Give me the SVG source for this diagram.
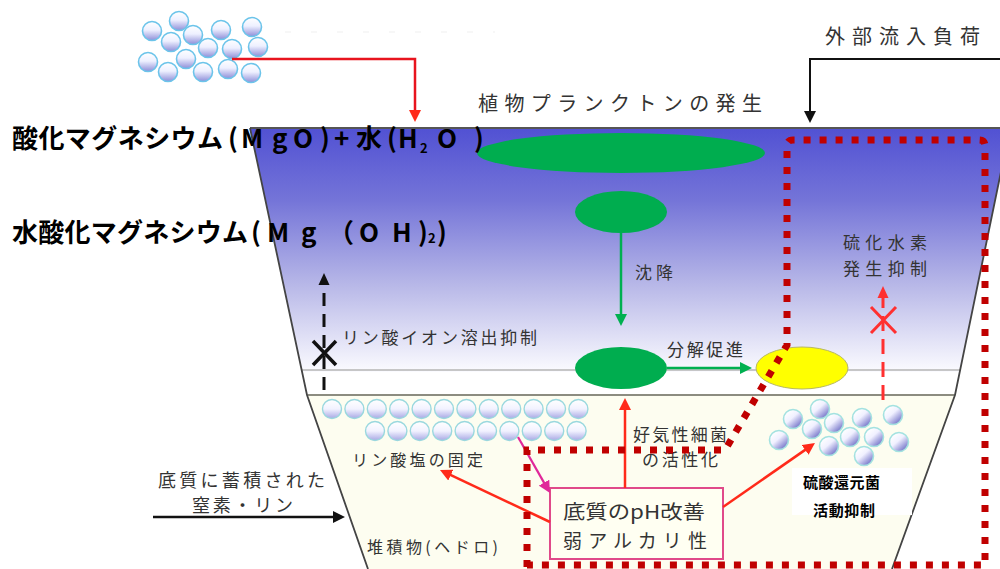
<svg xmlns="http://www.w3.org/2000/svg" width="1000" height="569" viewBox="0 0 1000 569">
  <style>
    .lbl { font-family: "Noto Sans CJK JP", "Noto Sans", sans-serif; fill: #333; }
    .big { font-family: "Noto Sans CJK JP", "Noto Sans", sans-serif; font-weight: bold; fill: #000; font-size: 26px; }
    .sub { font-size: 13px; }
    .bubA { fill: url(#gA); stroke: #6cc4ea; stroke-width: 1.6; }
    .bubB { fill: url(#gB); stroke: #9ad8de; stroke-width: 1.4; }
    .bubC { fill: url(#gC); stroke: #a4e2e0; stroke-width: 1.6; }
    .wall { fill: none; stroke: #444; stroke-width: 1.8; }
    .green { fill: #00ad4f; }
    .arRed { fill: none; stroke: #ff2a1a; stroke-width: 2.5; marker-end: url(#mRed); }
  </style>
  <defs>
    <linearGradient id="water" x1="0" y1="128" x2="0" y2="372" gradientUnits="userSpaceOnUse">
      <stop offset="0" stop-color="#5151d3"/>
      <stop offset="0.3" stop-color="#7575d8"/>
      <stop offset="0.65" stop-color="#b9b9e8"/>
      <stop offset="1" stop-color="#fbfbff"/>
    </linearGradient>
    <linearGradient id="gA" x1="0" y1="0" x2="0" y2="1">
      <stop offset="0" stop-color="#ffffff"/>
      <stop offset="0.45" stop-color="#eef0ff"/>
      <stop offset="1" stop-color="#8d8dd8"/>
    </linearGradient>
    <linearGradient id="gB" x1="0" y1="0" x2="0" y2="1">
      <stop offset="0" stop-color="#ffffff"/>
      <stop offset="0.5" stop-color="#f2f2ff"/>
      <stop offset="1" stop-color="#a8a8e4"/>
    </linearGradient>
    <linearGradient id="gC" x1="0.2" y1="0.1" x2="0.9" y2="0.9">
      <stop offset="0" stop-color="#ffffff"/>
      <stop offset="0.4" stop-color="#f0f0ff"/>
      <stop offset="1" stop-color="#6a6ac4"/>
    </linearGradient>
    <marker id="mRed" markerUnits="userSpaceOnUse" markerWidth="14" markerHeight="12" refX="4" refY="6" orient="auto">
      <path d="M0,0 L12,6 L0,12 z" fill="#ff2a1a"/>
    </marker>
    <marker id="mBlack" markerUnits="userSpaceOnUse" markerWidth="14" markerHeight="12" refX="4" refY="6" orient="auto">
      <path d="M0,0 L12,6 L0,12 z" fill="#111"/>
    </marker>
    <marker id="mGreen" markerUnits="userSpaceOnUse" markerWidth="14" markerHeight="12" refX="4" refY="6" orient="auto">
      <path d="M0,0 L12,6 L0,12 z" fill="#00b050"/>
    </marker>
    <marker id="mMag" markerUnits="userSpaceOnUse" markerWidth="14" markerHeight="12" refX="4" refY="6" orient="auto">
      <path d="M0,0 L12,6 L0,12 z" fill="#e0289a"/>
    </marker>
  </defs>

  <rect width="1000" height="569" fill="#fff"/>

  <!-- pond cross-section -->
  <g id="pond">
    <polygon points="250,128 1010,128 960,372 302,372" fill="url(#water)"/>
    <polygon points="302,372 960,372 955,395 307,395" fill="#ffffff"/>
    <polygon points="307,395 955,395 892,569 368,569" fill="#fdfdf0"/>
    <line x1="302" y1="370" x2="960" y2="370" stroke="#b4b4b4" stroke-width="1.5"/>
    <line x1="307" y1="395" x2="955" y2="395" stroke="#8c8c80" stroke-width="2"/>
    <line x1="250" y1="128" x2="1000" y2="128" stroke="#555" stroke-width="2"/>
    <path class="wall" d="M250,128 L307,395 L368,569"/>
    <path class="wall" d="M1010,128 L955,395 L892,569"/>
    <line x1="285" y1="32" x2="495" y2="32" stroke="#d4d4d4" stroke-width="1" stroke-dasharray="6 20" opacity="0.35"/>
  </g>

  <!-- plankton bloom, settling and decomposition -->
  <g id="bloom">
    <ellipse class="green" cx="621" cy="153" rx="144" ry="20"/>
  </g>
  <g id="settling">
    <ellipse class="green" cx="621" cy="212" rx="46" ry="21"/>
  </g>
  <g id="bottom-plankton">
    <ellipse class="green" cx="621" cy="368" rx="46" ry="21"/>
  </g>
  <g id="decomposed">
    <ellipse cx="802" cy="368" rx="46" ry="21" fill="#ffff00" stroke="#b8b860" stroke-width="1"/>
  </g>

  <!-- magnesium oxide particles -->
  <g id="mgo-particles">
    <circle class="bubA" cx="152" cy="31" r="9.5"/>
    <circle class="bubA" cx="179" cy="21" r="9.5"/>
    <circle class="bubA" cx="171" cy="42" r="9.5"/>
    <circle class="bubA" cx="193" cy="35" r="9.5"/>
    <circle class="bubA" cx="221" cy="30" r="9.5"/>
    <circle class="bubA" cx="252" cy="27" r="9.5"/>
    <circle class="bubA" cx="208" cy="48" r="9.5"/>
    <circle class="bubA" cx="232" cy="49" r="9.5"/>
    <circle class="bubA" cx="258" cy="47" r="9.5"/>
    <circle class="bubA" cx="148" cy="62" r="9.5"/>
    <circle class="bubA" cx="186" cy="59" r="9.5"/>
    <circle class="bubA" cx="168" cy="72" r="9.5"/>
    <circle class="bubA" cx="203" cy="72" r="9.5"/>
    <circle class="bubA" cx="228" cy="69" r="9.5"/>
    <circle class="bubA" cx="251" cy="73" r="9.5"/>
  </g>

  <!-- phosphate fixed in sediment -->
  <g id="phosphate-layer">
    <circle class="bubB" cx="332" cy="409" r="9.5"/>
    <circle class="bubB" cx="354.4" cy="409" r="9.5"/>
    <circle class="bubB" cx="376.8" cy="409" r="9.5"/>
    <circle class="bubB" cx="399.2" cy="409" r="9.5"/>
    <circle class="bubB" cx="421.6" cy="409" r="9.5"/>
    <circle class="bubB" cx="444" cy="409" r="9.5"/>
    <circle class="bubB" cx="466.4" cy="409" r="9.5"/>
    <circle class="bubB" cx="488.8" cy="409" r="9.5"/>
    <circle class="bubB" cx="511.2" cy="409" r="9.5"/>
    <circle class="bubB" cx="533.6" cy="409" r="9.5"/>
    <circle class="bubB" cx="556" cy="409" r="9.5"/>
    <circle class="bubB" cx="578.4" cy="409" r="9.5"/>
    <circle class="bubB" cx="375" cy="431" r="9.5"/>
    <circle class="bubB" cx="397.4" cy="431" r="9.5"/>
    <circle class="bubB" cx="419.8" cy="431" r="9.5"/>
    <circle class="bubB" cx="442.2" cy="431" r="9.5"/>
    <circle class="bubB" cx="464.6" cy="431" r="9.5"/>
    <circle class="bubB" cx="487" cy="431" r="9.5"/>
    <circle class="bubB" cx="509.4" cy="431" r="9.5"/>
    <circle class="bubB" cx="531.8" cy="431" r="9.5"/>
    <circle class="bubB" cx="554.2" cy="431" r="9.5"/>
    <circle class="bubB" cx="576.6" cy="431" r="9.5"/>
  </g>

  <!-- sulfate-reducing bacteria -->
  <g id="srb-particles">
    <circle class="bubC" cx="793" cy="419" r="9.5"/>
    <circle class="bubC" cx="820" cy="409" r="9.5"/>
    <circle class="bubC" cx="834" cy="423" r="9.5"/>
    <circle class="bubC" cx="812" cy="429" r="9.5"/>
    <circle class="bubC" cx="862" cy="418" r="9.5"/>
    <circle class="bubC" cx="893" cy="415" r="9.5"/>
    <circle class="bubC" cx="779" cy="440" r="9.5"/>
    <circle class="bubC" cx="829" cy="446" r="9.5"/>
    <circle class="bubC" cx="850" cy="437" r="9.5"/>
    <circle class="bubC" cx="874" cy="437" r="9.5"/>
    <circle class="bubC" cx="899" cy="442" r="9.5"/>
    <circle class="bubC" cx="864" cy="456" r="9.5"/>
  </g>

  <!-- pH improvement box -->
  <g id="ph-box">
    <rect x="550" y="488" width="173" height="71" fill="#fffff2" stroke="#e04a8a" stroke-width="2"/>
    <text class="lbl" x="563" y="519" font-size="19" textLength="142" lengthAdjust="spacingAndGlyphs">底質のpH改善</text>
    <text class="lbl" x="563" y="548" font-size="19" textLength="144" lengthAdjust="spacing">弱アルカリ性</text>
  </g>

  <g id="srb-label">
    <rect x="792" y="468" width="120" height="47" fill="#ffffff"/>
    <text class="lbl" x="803" y="488" font-size="15" font-weight="bold" style="fill:#000" textLength="77" lengthAdjust="spacing">硫酸還元菌</text>
    <text class="lbl" x="813" y="516" font-size="15" font-weight="bold" style="fill:#000" textLength="62" lengthAdjust="spacing">活動抑制</text>
  </g>

  <!-- connectors -->
  <g id="connectors">
    <path d="M232,59 H415 V114" fill="none" stroke="#e8141e" stroke-width="2.5" marker-end="url(#mRed)"/>
    <path d="M1000,59 H810 V115" fill="none" stroke="#111" stroke-width="2" marker-end="url(#mBlack)"/>
    <path d="M153,517 H337" fill="none" stroke="#111" stroke-width="2.5" marker-end="url(#mBlack)"/>
    <path d="M621,233 V318" fill="none" stroke="#00b050" stroke-width="2.5" marker-end="url(#mGreen)"/>
    <path d="M667,368 H744" fill="none" stroke="#00b050" stroke-width="2.5" marker-end="url(#mGreen)"/>
    <path class="arRed" d="M625,488 V406"/>
    <path class="arRed" d="M550,522 L447.2,473.4"/>
    <path class="arRed" d="M723,507 L808.4,447.6"/>
    <path d="M518,437 L546,486.1" fill="none" stroke="#e0289a" stroke-width="2.2" marker-end="url(#mMag)"/>
    <!-- suppressed phosphate release -->
    <path d="M324,390 V286" fill="none" stroke="#111" stroke-width="3" stroke-dasharray="13 8"/>
    <polygon points="318.5,285 329.5,285 324,273" fill="#111"/>
    <path d="M313,341 L336,365 M336,341 L313,365" stroke="#111" stroke-width="3.5" fill="none"/>
    <!-- suppressed hydrogen sulfide generation -->
    <path d="M883,400 V297" fill="none" stroke="#ff3030" stroke-width="3" stroke-dasharray="15 8"/>
    <polygon points="877.5,298 888.5,298 883,286" fill="#ff3030"/>
    <path d="M871,307 L896,333 M896,307 L871,333" stroke="#ff3030" stroke-width="3" fill="none"/>
  </g>

  <!-- labels -->
  <g id="labels">
    <text class="lbl" x="825" y="44" font-size="20" textLength="155" lengthAdjust="spacing">外部流入負荷</text>
    <text class="lbl" x="478" y="111" font-size="20" textLength="284" lengthAdjust="spacing">植物プランクトンの発生</text>
    <text class="lbl" x="635" y="279" font-size="17" textLength="38" lengthAdjust="spacing">沈降</text>
    <text class="lbl" x="667" y="356" font-size="17" textLength="76" lengthAdjust="spacing">分解促進</text>
    <text class="lbl" x="843" y="249" font-size="17" textLength="84" lengthAdjust="spacing">硫化水素</text>
    <text class="lbl" x="843" y="275" font-size="17" textLength="84" lengthAdjust="spacing">発生抑制</text>
    <text class="lbl" x="342" y="344" font-size="17" textLength="195" lengthAdjust="spacing">リン酸イオン溶出抑制</text>
    <text class="lbl" x="352" y="466" font-size="16" textLength="131" lengthAdjust="spacing">リン酸塩の固定</text>
    <text class="lbl" x="633" y="441" font-size="17" textLength="94" lengthAdjust="spacing">好気性細菌</text>
    <text class="lbl" x="642" y="466" font-size="17" textLength="76" lengthAdjust="spacing">の活性化</text>
    <text class="lbl" x="158" y="487" font-size="18" textLength="167" lengthAdjust="spacing">底質に蓄積された</text>
    <text class="lbl" x="192" y="512" font-size="18" textLength="101" lengthAdjust="spacing">窒素・リン</text>
    <text class="lbl" x="367" y="553" font-size="16" textLength="131" lengthAdjust="spacing">堆積物(ヘドロ)</text>
  </g>

  <!-- reaction formulas -->
  <g id="formulas">
    <text class="big" y="148"><tspan x="12" textLength="211" lengthAdjust="spacing">酸化マグネシウム</tspan><tspan x="228">(</tspan><tspan x="241">M</tspan><tspan x="272">g</tspan><tspan x="293">O</tspan><tspan x="320">)</tspan><tspan x="334">+</tspan><tspan x="356">水</tspan><tspan x="387">(</tspan><tspan x="398">H</tspan><tspan x="420" class="sub" dy="5">2</tspan><tspan x="437" dy="-5">O</tspan><tspan x="474">)</tspan></text>
    <text class="big" y="242"><tspan x="12" textLength="236" lengthAdjust="spacing">水酸化マグネシウム</tspan><tspan x="251">(</tspan><tspan x="267">M</tspan><tspan x="301">g</tspan><tspan x="328">（</tspan><tspan x="359">O</tspan><tspan x="392">H</tspan><tspan x="418">)</tspan><tspan x="428" class="sub" dy="1">2</tspan><tspan x="437" dy="-1">)</tspan></text>
  </g>

  <!-- treatment area outline -->
  <g id="treatment-area">
    <path d="M527,567 V450 H725 L787,345 V146 Q787,140 793,140 H979 Q985,140 985,146 V565 H527" fill="none" stroke="#c00000" stroke-width="7" stroke-dasharray="7 9"/>
  </g>
</svg>
